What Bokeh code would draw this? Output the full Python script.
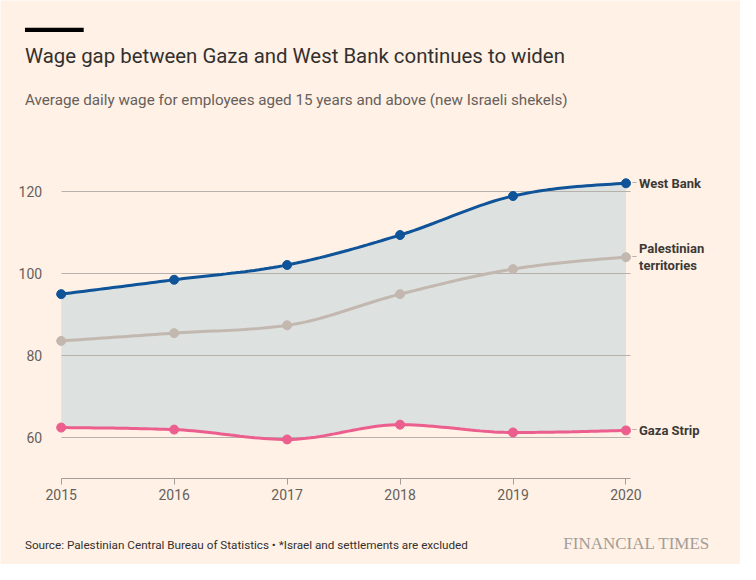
import numpy as np
from bokeh.plotting import figure
from bokeh.models import Range1d, Label, BoxAnnotation
from bokeh.embed import file_html
from bokeh.resources import INLINE

# ---- data ----
years = [2015, 2016, 2017, 2018, 2019, 2020]
west_bank = [94.9, 98.4, 102.0, 109.3, 118.8, 121.9]
palestinian = [83.5, 85.4, 87.3, 94.9, 101.0, 103.9]
gaza = [62.4, 61.9, 59.5, 63.1, 61.2, 61.7]
y_ticks = [60, 80, 100, 120]
y_floor = 50
series_names = ["West Bank", "Palestinian\nterritories", "Gaza Strip"]

title = "Wage gap between Gaza and West Bank continues to widen"
subtitle = "Average daily wage for employees aged 15 years and above (new Israeli shekels)"
source = "Source: Palestinian Central Bureau of Statistics \u2022 *Israel and settlements are excluded"
brand = "FINANCIAL TIMES"

# ---- style ----
BG = "#FFF1E5"
BLUE = "#0F5499"
TAUPE = "#C3B8AF"
PINK = "#EB5E8D"
AREA = "#DDE1E0"
GRID = "#B7B1AB"
AXIS = "#A39D98"
TEXT = "#33302E"
MUTED = "#66605C"
FONT = "Roboto"

W, H = 740, 564
KX, KY = W / 756, H / 580          # layout designed on a 756x580 sheet
# layout anchors (sheet pixels)
X_FIRST, X_LAST = 62, 639           # first / last year positions
Y_TOP_T, Y_BOT_T = 196, 449.3       # positions of top / bottom y tick
px_per_year = (X_LAST - X_FIRST) * KX / (years[-1] - years[0])
px_per_unit = (Y_BOT_T - Y_TOP_T) * KY / (y_ticks[-1] - y_ticks[0])
x_start = years[0] - X_FIRST * KX / px_per_year
x_end = x_start + W / px_per_year
y_top = y_ticks[-1] + Y_TOP_T * KY / px_per_unit
y_bottom = y_top - H / px_per_unit
x_right_edge = years[-1] + 5 * KX / px_per_year


def monotone_x(xs, ys, n=24):
    """d3 curveMonotoneX rendering of the series (visual smoothing only)."""
    xs = np.asarray(xs, float)
    ys = np.asarray(ys, float)
    m = len(xs)
    h = np.diff(xs)
    s = np.diff(ys) / h
    t = np.zeros(m)
    for i in range(1, m - 1):
        p_ = (s[i - 1] * h[i] + s[i] * h[i - 1]) / (h[i - 1] + h[i])
        t[i] = (np.sign(s[i - 1]) + np.sign(s[i])) * min(abs(s[i - 1]), abs(s[i]), 0.5 * abs(p_))
    t[0] = (3 * s[0] - t[1]) / 2
    t[-1] = (3 * s[-1] - t[-2]) / 2
    ox, oy = [], []
    for i in range(m - 1):
        u = np.linspace(0, 1, n, endpoint=(i == m - 2))
        h00 = 2 * u**3 - 3 * u**2 + 1
        h10 = u**3 - 2 * u**2 + u
        h01 = -2 * u**3 + 3 * u**2
        h11 = u**3 - u**2
        ox.extend(xs[i] + u * h[i])
        oy.extend(h00 * ys[i] + h10 * h[i] * t[i] + h01 * ys[i + 1] + h11 * h[i] * t[i + 1])
    return np.array(ox), np.array(oy)


p = figure(width=W, height=H, output_backend="svg", toolbar_location=None,
           x_range=Range1d(x_start, x_end), y_range=Range1d(y_bottom, y_top),
           min_border=0, min_border_left=0, min_border_right=0,
           min_border_top=0, min_border_bottom=0)
p.background_fill_color = BG
p.border_fill_color = BG
p.outline_line_color = None

# area between Gaza and West Bank
sx, swb = monotone_x(years, west_bank)
_, sg = monotone_x(years, gaza)
_, spal = monotone_x(years, palestinian)
p.varea(x=sx, y1=sg, y2=swb, fill_color=AREA, level="image")

for ys_s, ys, col in [(spal, palestinian, TAUPE), (sg, gaza, PINK), (swb, west_bank, BLUE)]:
    p.line(sx, ys_s, line_color=col, line_width=3)
    p.scatter(years, ys, size=9, fill_color=col, line_color=col)

# grid
p.xgrid.grid_line_color = None
p.ygrid.ticker = y_ticks
p.ygrid.grid_line_color = GRID
p.ygrid.grid_line_width = 1
p.ygrid.cross_bounds = (years[0], x_right_edge)

# axes drawn inside the (full-canvas) frame
p.yaxis.fixed_location = years[0]
p.yaxis.ticker = y_ticks
p.yaxis.axis_line_color = None
p.yaxis.major_tick_line_color = None
p.yaxis.minor_tick_line_color = None
p.yaxis.major_label_standoff = 13
p.yaxis.major_label_text_font = FONT
p.yaxis.major_label_text_font_size = "14px"
p.yaxis.major_label_text_color = MUTED

p.xaxis.fixed_location = y_floor
p.xaxis.bounds = (years[0], x_right_edge)
p.xaxis.ticker = years
p.xaxis.axis_line_color = AXIS
p.xaxis.major_tick_line_color = AXIS
p.xaxis.major_tick_out = 6
p.xaxis.major_tick_in = 0
p.xaxis.minor_tick_line_color = None
p.xaxis.major_label_standoff = 5
p.xaxis.major_label_text_font = FONT
p.xaxis.major_label_text_font_size = "14px"
p.xaxis.major_label_text_color = MUTED

# series labels at right
for val, name in zip([west_bank[-1], palestinian[-1], gaza[-1]], series_names):
    p.add_layout(Label(x=years[-1], y=val, x_offset=5.5, text="\u2013", text_baseline="middle",
                       text_font=FONT, text_font_size="9px", text_color=AXIS))
    p.add_layout(Label(x=years[-1], y=val, x_offset=13, text=name, text_baseline="middle",
                       text_font=FONT, text_font_size="13px", text_font_style="bold",
                       text_color="#3D3936", text_line_height=1.1))


def sheet_label(text, px, py, **kw):
    return Label(x=px * KX, y=H - py * KY, x_units="screen", y_units="screen",
                 text=text, text_baseline="middle", **kw)


p.add_layout(BoxAnnotation(left=25 * KX, right=85 * KX, top=H - 28 * KY, bottom=H - 32.5 * KY,
                           left_units="screen", right_units="screen",
                           top_units="screen", bottom_units="screen",
                           fill_color="black", fill_alpha=1, line_color=None))
p.add_layout(sheet_label(title, 25, 57, text_font=FONT, text_font_size="20.4px",
                         text_color=TEXT))
p.add_layout(sheet_label(subtitle, 25, 102, text_font=FONT, text_font_size="15.2px",
                         text_color=MUTED))
p.add_layout(sheet_label(source, 25, 560, text_font=FONT, text_font_size="11.7px",
                         text_color=TEXT))
p.add_layout(sheet_label(brand, 575, 558, text_font="Liberation Serif",
                         text_font_size="17px", text_color=AXIS))

html = file_html(p, INLINE)
html = html.replace("<body>", '<body style="background-color:#FFF1E5;">', 1)
open("out.html", "w").write(html)
